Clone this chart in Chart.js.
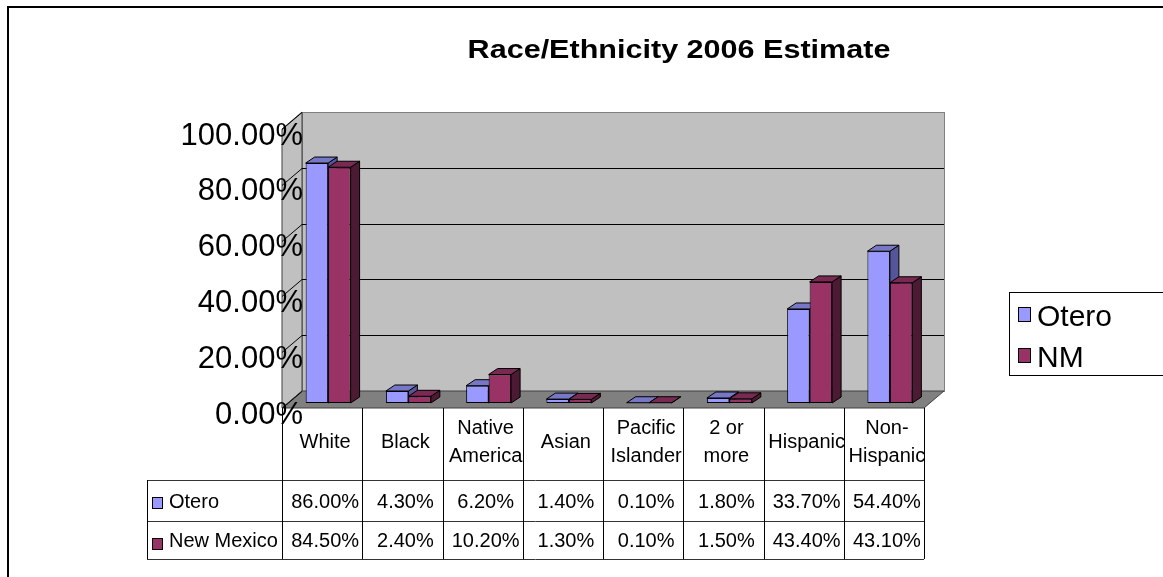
<!DOCTYPE html>
<html>
<head>
<meta charset="utf-8">
<script src="https://cdn.jsdelivr.net/npm/chart.js@4.4.1/dist/chart.umd.min.js"></script>
<style>
  html, body { margin: 0; padding: 0; background: #fff; }
  canvas { display: block; }
</style>
</head>
<body>
<canvas id="grafico" width="1163" height="577"></canvas>
<script>
const categorias = [["White"], ["Black"], ["Native", "America"], ["Asian"], ["Pacific", "Islander"], ["2 or", "more"], ["Hispanic"], ["Non-", "Hispanic"]];
const oteroValores = [86.0, 4.3, 6.2, 1.4, 0.1, 1.8, 33.7, 54.4];
const nmValores = [84.5, 2.4, 10.2, 1.3, 0.1, 1.5, 43.4, 43.1];
const nomesLegenda = ["Otero", "NM"];
const nomesTabela = ["Otero", "New Mexico"];
const yTicks = [0, 20, 40, 60, 80, 100];
const titulo = "Race/Ethnicity 2006 Estimate";

const FONTE = '"Liberation Sans", Arial, sans-serif';
const cores = {
    otero: { frente: "#9999ff", topo: "#7777c8", lado: "#55559a" },
    nm: { frente: "#993366", topo: "#7a2952", lado: "#4d1a33" }
};
// deslocamentos do plano das barras para a frente / fundo da caixa 3D
const FRENTE = { dx: -6, dy: 5 };
const FUNDO = { dx: 14, dy: -12 };
const BARRA = { dx: 9, dy: -6 };

const fmt = v => v.toFixed(2) + "%";

const caixa3d = {
    id: "caixa3d",
    beforeDraw(chart) {
        const { ctx, chartArea, scales } = chart;
        const y = scales.y;
        ctx.save();
        ctx.fillStyle = "#fff";
        ctx.fillRect(0, 0, chart.width, chart.height);

        // moldura externa
        ctx.strokeStyle = "#000";
        ctx.lineWidth = 2;
        ctx.beginPath();
        ctx.moveTo(8, chart.height);
        ctx.lineTo(8, 7);
        ctx.lineTo(chart.width, 7);
        ctx.stroke();

        const y0 = y.getPixelForValue(0);
        const y100 = y.getPixelForValue(100);
        const fl = chartArea.left + FRENTE.dx, fr = chartArea.right + FRENTE.dx;
        const bl = chartArea.left + FUNDO.dx, br = chartArea.right + FUNDO.dx;

        // parede do fundo
        ctx.lineWidth = 1;
        ctx.fillStyle = "#c0c0c0";
        ctx.strokeStyle = "#808080";
        ctx.fillRect(bl, y100 + FUNDO.dy, br - bl, y0 - y100);
        ctx.strokeRect(bl + 0.5, y100 + FUNDO.dy + 0.5, br - bl, y0 - y100);

        // parede esquerda
        ctx.beginPath();
        ctx.moveTo(fl, y100 + FRENTE.dy);
        ctx.lineTo(bl, y100 + FUNDO.dy);
        ctx.lineTo(bl, y0 + FUNDO.dy);
        ctx.lineTo(fl, y0 + FRENTE.dy);
        ctx.closePath();
        ctx.fill();
        ctx.strokeStyle = "#404040";
        ctx.stroke();

        // chao
        ctx.fillStyle = "#808080";
        ctx.beginPath();
        ctx.moveTo(fl, y0 + FRENTE.dy);
        ctx.lineTo(fr, y0 + FRENTE.dy);
        ctx.lineTo(br, y0 + FUNDO.dy);
        ctx.lineTo(bl, y0 + FUNDO.dy);
        ctx.closePath();
        ctx.fill();
        ctx.strokeStyle = "#404040";
        ctx.stroke();

        // linhas de grade
        ctx.strokeStyle = "#000";
        yTicks.forEach(v => {
            const py = Math.round(y.getPixelForValue(v)) + 0.5;
            ctx.beginPath();
            ctx.moveTo(fl, py + FRENTE.dy);
            ctx.lineTo(bl, py + FUNDO.dy);
            if (v > 0 && v < 100) ctx.lineTo(br, py + FUNDO.dy);
            ctx.stroke();
        });
        ctx.restore();
    },
    beforeDatasetsDraw(chart) {
        const { ctx } = chart;
        const metas = [chart.getDatasetMeta(0), chart.getDatasetMeta(1)];
        const paletas = [cores.otero, cores.nm];
        ctx.save();
        ctx.lineWidth = 1;
        ctx.strokeStyle = "#000";
        ctx.lineJoin = "round";
        for (let j = 0; j < categorias.length; j++) {
            metas.forEach((meta, i) => {
                const b = meta.data[j].getProps(["x", "y", "base", "width"], true);
                const l = b.x - b.width / 2, r = b.x + b.width / 2;
                // lateral
                ctx.fillStyle = paletas[i].lado;
                ctx.beginPath();
                ctx.moveTo(r, b.y);
                ctx.lineTo(r + BARRA.dx, b.y + BARRA.dy);
                ctx.lineTo(r + BARRA.dx, b.base + BARRA.dy);
                ctx.lineTo(r, b.base);
                ctx.closePath();
                ctx.fill();
                ctx.stroke();
                // topo
                ctx.fillStyle = paletas[i].topo;
                ctx.beginPath();
                ctx.moveTo(l, b.y);
                ctx.lineTo(r, b.y);
                ctx.lineTo(r + BARRA.dx, b.y + BARRA.dy);
                ctx.lineTo(l + BARRA.dx, b.y + BARRA.dy);
                ctx.closePath();
                ctx.fill();
                ctx.stroke();
            });
        }
        ctx.restore();
    },
    afterDraw(chart) {
        const { ctx, chartArea, scales } = chart;
        const x = scales.x;
        const y0 = scales.y.getPixelForValue(0) + FRENTE.dy;
        const largura = (chartArea.right - chartArea.left) / categorias.length;
        const linhas = [y0, 480, 521, 559];
        const esquerdaTabela = 147;
        const fl = chartArea.left + FRENTE.dx, fr = chartArea.right + FRENTE.dx;

        ctx.save();
        ctx.lineWidth = 1;

        // linhas horizontais da tabela
        ctx.strokeStyle = "#333";
        [linhas[1], linhas[2], linhas[3]].forEach(py => {
            ctx.beginPath();
            ctx.moveTo(esquerdaTabela, py + 0.5);
            ctx.lineTo(fr, py + 0.5);
            ctx.stroke();
        });
        ctx.strokeStyle = "#000";
        ctx.beginPath();
        ctx.moveTo(esquerdaTabela + 0.5, linhas[1]);
        ctx.lineTo(esquerdaTabela + 0.5, linhas[3]);
        ctx.stroke();

        // linhas verticais
        for (let j = 0; j <= categorias.length; j++) {
            const px = Math.round(fl + j * largura) + 0.5;
            ctx.beginPath();
            ctx.moveTo(px, y0);
            ctx.lineTo(px, linhas[3]);
            ctx.stroke();
        }

        // textos da tabela
        ctx.fillStyle = "#000";
        ctx.font = "20px " + FONTE;
        ctx.textAlign = "center";
        ctx.textBaseline = "middle";
        categorias.forEach((cat, j) => {
            const cx = x.getPixelForValue(j) + FRENTE.dx + 3;
            if (cat.length === 1) {
                ctx.fillText(cat[0], cx, 442);
            } else {
                ctx.fillText(cat[0], cx, 428);
                ctx.fillText(cat[1], cx, 456);
            }
            ctx.fillText(fmt(oteroValores[j]), cx, 502);
            ctx.fillText(fmt(nmValores[j]), cx, 541);
        });

        // chaves das linhas
        ctx.textAlign = "left";
        [[cores.otero.frente, 497, 502], [cores.nm.frente, 538, 541]].forEach(([cor, ky, ty], i) => {
            ctx.fillStyle = cor;
            ctx.fillRect(152, ky, 11, 12);
            ctx.strokeRect(152.5, ky + 0.5, 10, 11);
            ctx.fillStyle = "#000";
            ctx.fillText(nomesTabela[i], 169, ty);
        });

        // legenda
        ctx.strokeRect(1009.5, 292.5, 200, 83);
        ctx.font = "30px " + FONTE;
        [[cores.otero.frente, 307, 318], [cores.nm.frente, 348, 359]].forEach(([cor, ky, ty], i) => {
            ctx.fillStyle = cor;
            ctx.fillRect(1018, ky, 13, 15);
            ctx.strokeRect(1018.5, ky + 0.5, 12, 14);
            ctx.fillStyle = "#000";
            ctx.fillText(nomesLegenda[i], 1037, ty);
        });

        // titulo
        ctx.font = "bold 26px " + FONTE;
        ctx.textAlign = "center";
        ctx.textBaseline = "alphabetic";
        ctx.translate(679, 58);
        ctx.scale(1.175, 1);
        ctx.fillText(titulo, 0, 0);
        ctx.restore();
    }
};

const ctx = document.getElementById("grafico").getContext("2d");
new Chart(ctx, {
    type: "bar",
    data: {
        labels: categorias.map(c => c.join(" ")),
        datasets: [
            {
                label: nomesLegenda[0],
                data: oteroValores,
                backgroundColor: cores.otero.frente,
                borderColor: "#000",
                borderWidth: 1,
                borderSkipped: false,
                categoryPercentage: 0.56,
                barPercentage: 1.0
            },
            {
                label: nomesLegenda[1],
                data: nmValores,
                backgroundColor: cores.nm.frente,
                borderColor: "#000",
                borderWidth: 1,
                borderSkipped: false,
                categoryPercentage: 0.56,
                barPercentage: 1.0
            }
        ]
    },
    options: {
        responsive: false,
        animation: false,
        devicePixelRatio: 1,
        layout: {
            padding: { left: 88, top: 124, right: 233, bottom: 174 }
        },
        plugins: {
            legend: { display: false },
            tooltip: { enabled: false },
            title: { display: false }
        },
        scales: {
            x: {
                display: false
            },
            y: {
                min: 0,
                max: 100,
                afterBuildTicks(scale) {
                    scale.ticks = yTicks.map(v => ({ value: v }));
                },
                afterFit(scale) {
                    scale.width = 200;
                    // deixa o "%" passar por cima da parede, como no original
                    scale._computeLabelArea = () => undefined;
                },
                grid: { display: false, drawTicks: false },
                border: { display: false },
                ticks: {
                    color: "#000",
                    padding: -15,
                    labelOffset: 12,
                    font: { family: FONTE, size: 31 },
                    callback: v => fmt(v)
                }
            }
        }
    },
    plugins: [caixa3d]
});
</script>
</body>
</html>
